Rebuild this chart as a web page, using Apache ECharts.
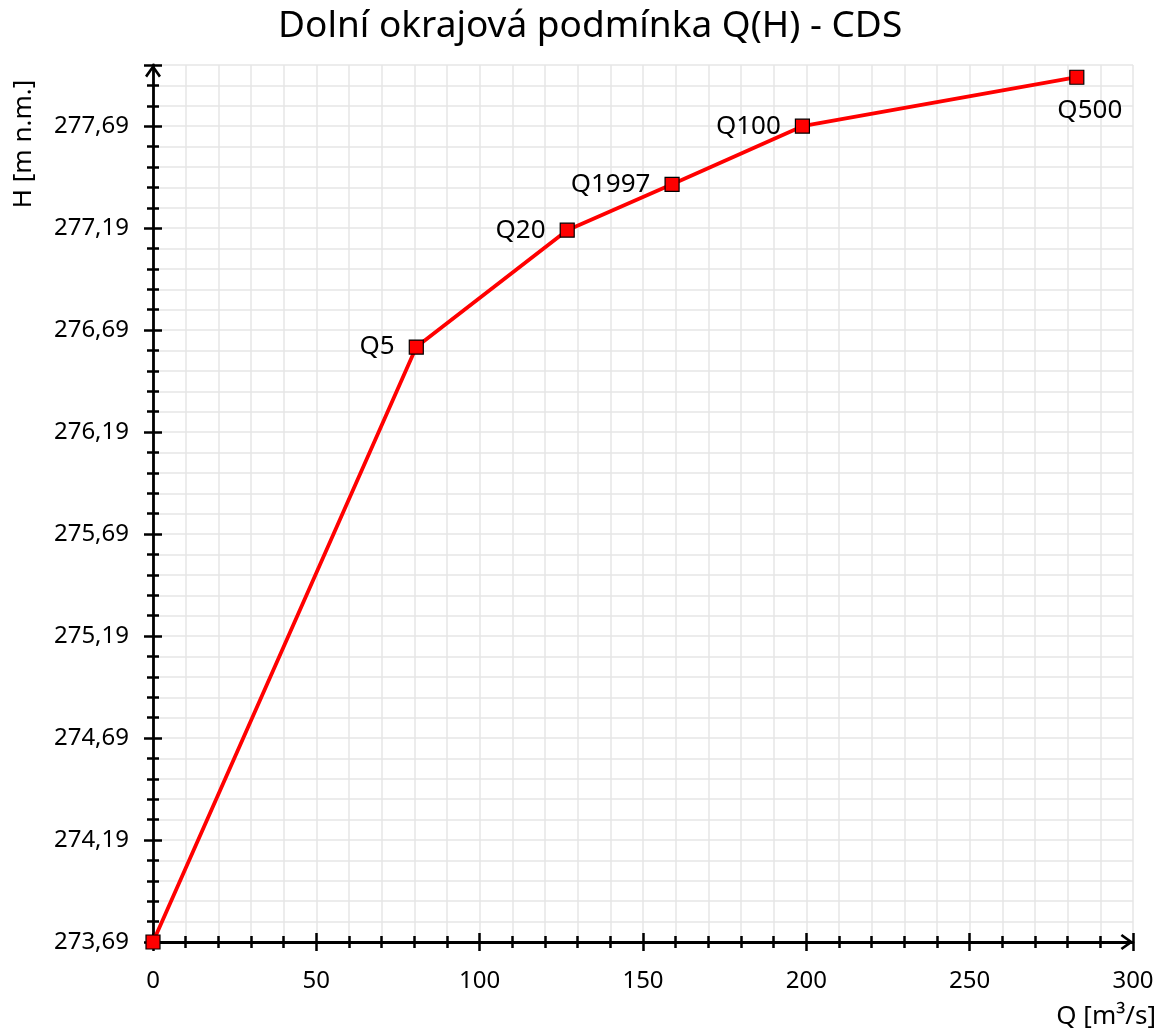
<!DOCTYPE html>
<html><head><meta charset="utf-8">
<script src="https://cdn.jsdelivr.net/npm/echarts@6/dist/echarts.min.js"></script>
<style>html,body{margin:0;padding:0;background:#fff}#c{width:1160px;height:1032px}</style>
</head><body><div id="c"></div>
<script>
// Data
var pointNames = ['', 'Q5', 'Q20', 'Q1997', 'Q100', 'Q500'];
var qValues = [0, 80.6, 126.8, 158.9, 198.8, 282.8];
var hValues = [273.69, 276.607, 277.18, 277.405, 277.69, 277.93];
var H_BASE = 273.69;           // lowest tick label
var H_SPAN = 4.3;              // axis range above base
var xTickLabelStep = 50;
var yTickLabelStep = 0.5;
var xMinorStep = 10;
var yMinorStep = 0.1;

var FONT = 'Noto Sans';
var chart = echarts.init(document.getElementById('c'));

var seriesData = qValues.map(function (q, i) {
  var lab = {};
  if (pointNames[i] === 'Q500') lab = {position: 'bottom', distance: 13, offset: [13, 0]};
  else lab = {position: 'left', distance: 14};
  return {value: [q, +(hValues[i] - H_BASE).toFixed(4)], name: pointNames[i], label: lab};
});

function xFmt(v) {
  return (Math.round(v) % xTickLabelStep === 0) ? String(Math.round(v)) : '';
}
function yFmt(v) {
  var k = Math.round(v / yMinorStep);
  if (k % Math.round(yTickLabelStep / yMinorStep) !== 0) return '';
  return (H_BASE + v).toFixed(2).replace('.', ',');
}
var arrowPath = 'path://M10,0 L20,14 L17.4,16 L10,5.6 L2.6,16 L0,14 Z';
var tickStyle = {color: '#000', width: 2.5};

var baseX = {
  type: 'value', min: 0, max: 300, interval: xMinorStep, position: 'bottom',
  axisLine: {show: true, lineStyle: {color: '#000', width: 2.8}, symbol: ['none', arrowPath], symbolSize: [16, 13], symbolOffset: [0, -6]},
  axisTick: {show: true, length: 6, lineStyle: tickStyle},
  splitLine: {show: true, lineStyle: {color: '#e6e6e6', width: 1.5}},
  axisLabel: {show: true, formatter: xFmt, color: '#000', fontFamily: FONT, fontSize: 24, margin: 27, showMaxLabel: true, showMinLabel: true}
};
var baseY = {
  type: 'value', min: 0, max: H_SPAN, interval: yMinorStep, position: 'left',
  axisLine: {show: true, lineStyle: {color: '#000', width: 2.8}, symbol: ['none', arrowPath], symbolSize: [16, 13], symbolOffset: [0, -6]},
  axisTick: {show: true, length: 6, lineStyle: tickStyle},
  splitLine: {show: true, lineStyle: {color: '#e6e6e6', width: 1.5}},
  axisLabel: {show: true, formatter: yFmt, color: '#000', fontFamily: FONT, fontSize: 24, margin: 24, showMaxLabel: true, showMinLabel: true}
};
function tickOnly(base, interval, inside, len) {
  return Object.assign({}, base, {interval: interval, axisLine: {show: false}, splitLine: {show: false}, axisLabel: {show: false},
    axisTick: {show: true, inside: inside, length: len, lineStyle: tickStyle}});
}

chart.setOption({
  animation: false,
  backgroundColor: '#fff',
  title: {text: 'Dolní okrajová podmínka Q(H) - CDS', left: 273, top: 3,
    textStyle: {fontFamily: FONT, fontSize: 37, fontWeight: 'normal', color: '#000'}},
  grid: {left: 153, right: 27, top: 65, bottom: 90, containLabel: false},
  xAxis: [
    baseX,
    tickOnly(baseX, xMinorStep, true, 6),
    tickOnly(baseX, xTickLabelStep, false, 9),
    tickOnly(baseX, xTickLabelStep, true, 9)
  ],
  yAxis: [
    baseY,
    tickOnly(baseY, yMinorStep, true, 6),
    tickOnly(baseY, yTickLabelStep, false, 9),
    tickOnly(baseY, yTickLabelStep, true, 9)
  ],
  series: [{
    type: 'line', data: seriesData, xAxisIndex: 0, yAxisIndex: 0,
    symbol: 'rect', symbolSize: 14, showAllSymbol: true,
    lineStyle: {color: '#ff0000', width: 3.8},
    itemStyle: {color: '#ff0000', borderColor: '#000', borderWidth: 1.2},
    label: {show: true, formatter: '{b}', color: '#000', fontFamily: FONT, fontSize: 26},
    z: 5
  }],
  graphic: [
    {type: 'text', x: 24, y: 144, rotation: Math.PI / 2,
      style: {text: 'H [m n.m.]', fontFamily: FONT, fontSize: 26, fill: '#000', align: 'center', verticalAlign: 'middle'}},
    {type: 'text', x: 1156, y: 1017,
      style: {text: 'Q [m³/s]', fontFamily: FONT, fontSize: 26, fill: '#000', align: 'right', verticalAlign: 'middle'}}
  ]
});
</script></body></html>
